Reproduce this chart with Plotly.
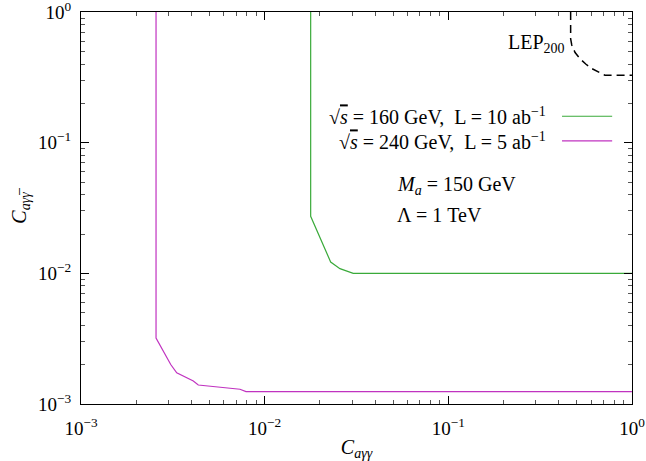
import plotly.graph_objects as go

# Data
green_x = [0.01780, 0.01780, 0.02287, 0.0257, 0.03035, 1.0]
green_y = [1.0, 0.0273, 0.01221, 0.01086, 0.0100, 0.0100]

mag_x = [0.002561, 0.002561, 0.003079, 0.003319, 0.004087, 0.004349, 0.007336, 0.007911, 1.0]
mag_y = [1.0, 0.003192, 0.002005, 0.001731, 0.001498, 0.001396, 0.001296, 0.001242, 0.001242]

lep_x = [0.4635, 0.4635, 0.4700, 0.4900, 0.5205, 0.5600, 0.605, 0.660, 0.712, 1.0]
lep_y = [1.0, 0.624, 0.560, 0.490, 0.440, 0.400, 0.369, 0.345, 0.328, 0.328]

tick_vals = [0.001, 0.01, 0.1, 1.0]
tick_text = ["10<sup>−3</sup>", "10<sup>−2</sup>", "10<sup>−1</sup>", "10<sup>0</sup>"]

legend_labels = ["√<span style='text-decoration:overline'><i>s</i></span> = 160 GeV,  L = 10 ab<sup>−1</sup>",
                 "√<span style='text-decoration:overline'><i>s</i></span> = 240 GeV,  L = 5 ab<sup>−1</sup>"]
colors = ["#3aaa3a", "#c033c0"]

FONT = "Liberation Serif"
FS = 20
TFS = 19

fig = go.Figure()
fig.add_trace(go.Scatter(x=green_x, y=green_y, mode="lines",
                         line=dict(color=colors[0], width=1.2), showlegend=False))
fig.add_trace(go.Scatter(x=mag_x, y=mag_y, mode="lines",
                         line=dict(color=colors[1], width=1.2), showlegend=False))
fig.add_trace(go.Scatter(x=lep_x, y=lep_y, mode="lines",
                         line=dict(color="black", width=1.5, dash="8px,5px"), showlegend=False))

axis_common = dict(
    type="log", showgrid=False, zeroline=False, automargin=False,
    ticklabeloverflow="allow",
    showline=True, linecolor="black", linewidth=1, mirror="allticks",
    ticks="inside", ticklen=8, tickcolor="black", tickwidth=1,
    tickmode="array", tickvals=tick_vals, ticktext=tick_text,
    tickfont=dict(family=FONT, size=TFS, color="black"),
    minor=dict(ticks="inside", ticklen=4, tickcolor="#555555", tickwidth=1, showgrid=False,
               tickmode="array", tickvals=[m * 10 ** e for e in (-3, -2, -1) for m in range(2, 10)]),
)

fig.update_xaxes(range=[-3.0002, 0.0002], ticklabelstandoff=7,
                 title=dict(text="<i>C</i><sub><i>aγγ</i></sub>",
                 font=dict(family=FONT, size=FS, color="black"), standoff=3), **axis_common)
fig.update_yaxes(range=[-3.0002, 0.0002], ticklabelstandoff=5,
                 title=dict(text="<i>C</i><sub><i>aγγ̅</i></sub>",
                 font=dict(family=FONT, size=FS, color="black"), standoff=6), **axis_common)

annotations = []
for lab, yy in zip(legend_labels, [0.734, 0.671]):
    annotations.append(dict(x=0.8475, y=yy, xref="paper", yref="paper", text=lab,
                            showarrow=False, xanchor="right", yanchor="middle",
                            font=dict(family=FONT, size=FS, color="black")))
annotations.append(dict(x=0.570, y=0.557, xref="paper", yref="paper",
                        text="<i>M</i><sub><i>a</i></sub> = 150 GeV", showarrow=False,
                        xanchor="left", yanchor="middle", font=dict(family=FONT, size=FS, color="black")))
annotations.append(dict(x=0.570, y=0.481, xref="paper", yref="paper",
                        text="Λ = 1 TeV", showarrow=False,
                        xanchor="left", yanchor="middle", font=dict(family=FONT, size=FS, color="black")))
annotations.append(dict(x=0.882, y=0.919, xref="paper", yref="paper",
                        text="LEP<sub>200</sub>", showarrow=False,
                        xanchor="right", yanchor="middle", font=dict(family=FONT, size=FS, color="black")))

shapes = []
for c, yy in zip(colors, [0.734, 0.671]):
    shapes.append(dict(type="line", xref="paper", yref="paper", x0=0.873, x1=0.964, y0=yy, y1=yy,
                       line=dict(color=c, width=1.2)))

fig.update_layout(
    width=646, height=461,
    margin=dict(l=81, r=14, t=12, b=57),
    paper_bgcolor="white", plot_bgcolor="white",
    annotations=annotations, shapes=shapes,
    showlegend=False,
)

fig.write_html("out.html")
